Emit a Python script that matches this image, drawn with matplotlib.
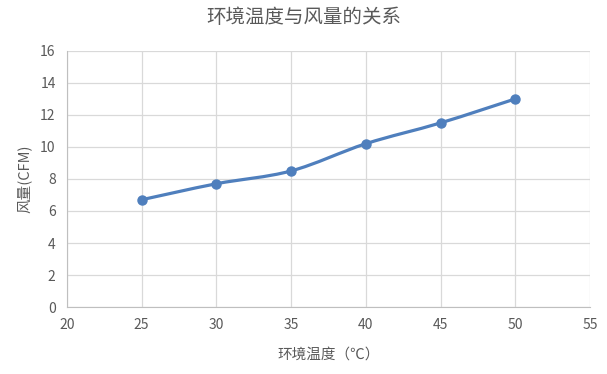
import matplotlib
matplotlib.use("Agg")
import matplotlib.pyplot as plt
import numpy as np
from matplotlib.path import Path
from matplotlib.patches import PathPatch

plt.rcParams['font.family'] = ['Noto Sans CJK SC', 'DejaVu Sans']

# data
temps = [25, 30, 35, 40, 45, 50]
airflow = [6.7, 7.7, 8.5, 10.2, 11.5, 13.0]
x_ticks = [20, 25, 30, 35, 40, 45, 50, 55]
y_ticks = [0, 2, 4, 6, 8, 10, 12, 14, 16]

line_color = '#4f7fbd'
text_color = '#595959'
grid_color = '#d9d9d9'


def smooth_path(xs, ys):
    # Excel-style smoothed line: Catmull-Rom segments written as cubic beziers
    pts = np.column_stack([xs, ys]).astype(float)
    n = len(pts)
    verts = [pts[0]]
    codes = [Path.MOVETO]
    for i in range(n - 1):
        p0 = pts[i - 1] if i > 0 else pts[i]
        p1 = pts[i]
        p2 = pts[i + 1]
        p3 = pts[i + 2] if i + 2 < n else pts[i + 1]
        c1 = p1 + (p2 - p0) / 6
        c2 = p2 - (p3 - p1) / 6
        verts += [c1, c2, p2]
        codes += [Path.CURVE4] * 3
    return Path(verts, codes)


fig = plt.figure(figsize=(6.07, 3.74), dpi=100)
ax = fig.add_axes([0.110, 0.179, 0.862, 0.685])

ax.add_patch(PathPatch(smooth_path(temps, airflow), facecolor='none',
                       edgecolor=line_color, lw=2.3, capstyle='round', zorder=3))
ax.plot(temps, airflow, 'o', color=line_color, markersize=6.5, zorder=4)

ax.set_xlim(20, 55)
ax.set_ylim(0, 16)
ax.set_xticks(x_ticks)
ax.set_yticks(y_ticks)
ax.grid(True, color=grid_color, lw=0.9)
ax.set_axisbelow(True)
ax.tick_params(length=0, labelsize=10, labelcolor=text_color, pad=8)
for s in ['top', 'right']:
    ax.spines[s].set_visible(False)
for s in ['left', 'bottom']:
    ax.spines[s].set_color('#bfbfbf')

ax.set_xlabel('环境温度（℃）', fontsize=10.5, color=text_color, labelpad=11)
ax.set_ylabel('风量(CFM)', fontsize=10.5, color=text_color, labelpad=6)
fig.suptitle('环境温度与风量的关系', fontsize=14, color=text_color, y=0.982)

fig.savefig('out.png', dpi=100)
